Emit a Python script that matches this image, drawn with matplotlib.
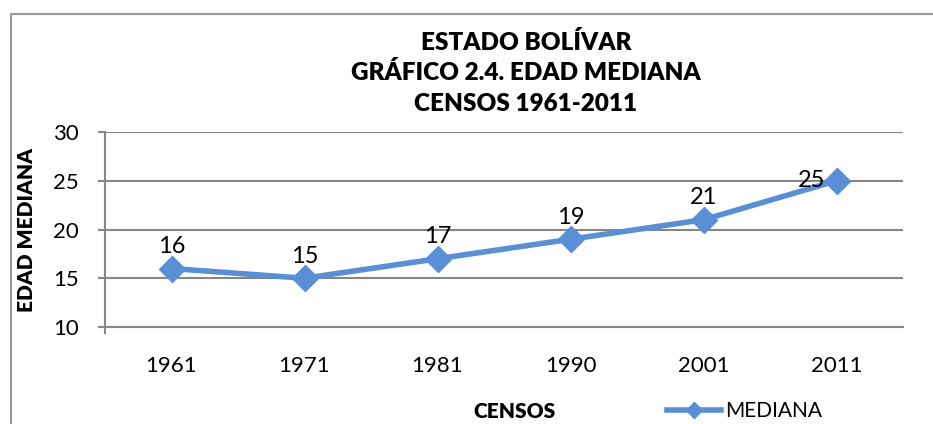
import matplotlib
matplotlib.use("Agg")
import matplotlib.pyplot as plt
from matplotlib.patches import Rectangle

# data
censos = ["1961", "1971", "1981", "1990", "2001", "2011"]
mediana = [16, 15, 17, 19, 21, 25]
yticks = [10, 15, 20, 25, 30]

blue = "#5A8FD5"
grey = "#868686"
body = "Lato"

fig = plt.figure(figsize=(9.33, 4.24), dpi=100)
fig.patches.append(Rectangle((11 / 933, -0.1), 1.2, 1 - 14 / 424 + 0.1,
                             transform=fig.transFigure, fill=False,
                             edgecolor="#9a9a9a", lw=1.5))

ax = fig.add_axes([105 / 933, 1 - 327 / 424, (903 - 105) / 933, (327 - 132) / 424])
x = range(len(censos))
ax.plot(x, mediana, color=blue, lw=4, marker="D", ms=13,
        markerfacecolor=blue, markeredgecolor=blue, label="MEDIANA", zorder=3)

for i, v in enumerate(mediana):
    if i == len(mediana) - 1:
        off = (-18, 0)
    else:
        off = (0, 16)
    ax.annotate(str(v), (i, v), xytext=off, textcoords="offset points",
                ha="center", va="center", fontsize=17, family=body, zorder=4)

ax.set_xlim(-0.5, len(censos) - 0.5)
ax.set_ylim(10, 30)
ax.set_yticks(yticks)
ax.set_yticklabels([str(t) for t in yticks], family=body, fontsize=16)
ax.set_xticks(list(x))
ax.set_xticklabels(censos, family=body, fontsize=16)
ax.set_xticks([-0.5], minor=True)
ax.tick_params(axis="x", which="major", length=0, pad=21)
ax.tick_params(axis="x", which="minor", length=5, color=grey, width=1.5)
ax.tick_params(axis="y", length=5, color=grey, width=1.5, pad=14)
ax.yaxis.grid(True, color=grey, lw=1.5)
ax.set_axisbelow(True)
for s in ["top", "right"]:
    ax.spines[s].set_visible(False)
for s in ["left", "bottom"]:
    ax.spines[s].set_color(grey)
    ax.spines[s].set_linewidth(1.5)

ax.set_ylabel("EDAD MEDIANA", family=body, fontweight="heavy", fontsize=15, labelpad=12)

for txt, yp in [("ESTADO BOLÍVAR", 42), ("GRÁFICO 2.4. EDAD MEDIANA", 73),
                ("CENSOS 1961-2011", 104)]:
    fig.text(526 / 933, 1 - yp / 424, txt, ha="center", va="center",
             family=body, fontweight="heavy", fontsize=17.5)

fig.text(515 / 933, 1 - 411 / 424, "CENSOS", ha="center", va="center",
         family=body, fontweight="heavy", fontsize=15)

fig.legend(loc="center left", bbox_to_anchor=(667 / 933, 1 - 411 / 424),
           frameon=False, prop={"family": body, "size": 15}, markerscale=0.65,
           handlelength=2.6, handletextpad=0.2, borderaxespad=0, borderpad=0)

fig.savefig("out.png", dpi=100)
